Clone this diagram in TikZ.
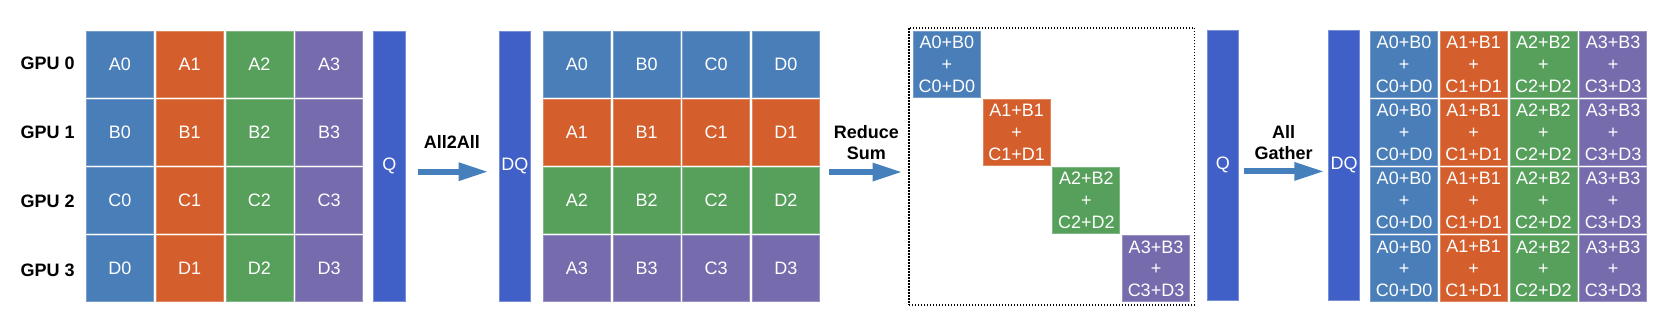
\documentclass[tikz,border=0pt]{standalone}
\usepackage{fontspec}
\setmainfont{Liberation Sans}
\usetikzlibrary{arrows.meta,calc}
\definecolor{cblue}{RGB}{74,126,184}
\definecolor{corange}{RGB}{212,95,45}
\definecolor{cgreen}{RGB}{87,160,92}
\definecolor{cpurple}{RGB}{118,108,173}
\definecolor{qblue}{RGB}{64,96,200}
\definecolor{arrowc}{RGB}{70,128,188}
\begin{document}
\begin{tikzpicture}[x=1pt,y=-1pt,
  every node/.style={font=\fontsize{18}{21.6}\selectfont},
  cell/.style={fill=#1, draw=#1!75!white, line width=0.8pt, minimum width=67pt, minimum height=66pt, inner sep=0pt, anchor=north west, text=white, align=center},
  bar/.style={fill=qblue, draw=qblue!70!white, line width=0.8pt, minimum width=31.5pt, minimum height=270pt, inner sep=0pt, anchor=north west, text=white},
  lbl/.style={font=\fontsize{18}{21.6}\selectfont\bfseries, align=center, text=black},
  bigarrow/.style={draw=arrowc, line width=6pt, -{Triangle[length=30pt,width=17pt]}}
]
\useasboundingbox (0,0) rectangle (1661,332);

% GPU labels
\foreach \r in {0,1,2,3} {
  \node[lbl, anchor=west] (gpu\r) at (17,{63+69*\r}) {GPU \r};
}

% grid 1
\foreach \r/\L in {0/A,1/B,2/C,3/D} {
  \foreach \c/\col in {0/cblue,1/corange,2/cgreen,3/cpurple} {
    \node[cell=\col] (g1-\r-\c) at ({86.1+69.7*\c},{31+68*\r}) {\L\c};
  }
}

% bars
\node[bar] (Q1) at (373.2,31) {Q};
\node[bar] (DQ1) at (498.6,31) {DQ};
\node[bar] (Q2) at (1206.6,29.5) {Q};
\node[bar] (DQ2) at (1327.9,29.5) {DQ};

% grid 2
\foreach \r/\col in {0/cblue,1/corange,2/cgreen,3/cpurple} {
  \foreach \c/\L in {0/A,1/B,2/C,3/D} {
    \node[cell=\col] (g2-\r-\c) at ({542.9+69.7*\c},{31+68*\r}) {\L\r};
  }
}

% reduce box
\node[draw=black, dash pattern=on 1.5pt off 1.5pt, line width=1.5pt, minimum width=285.7pt, minimum height=277pt, inner sep=0pt, anchor=north west] (rbox) at (908,27) {};
\foreach \i/\col in {0/cblue,1/corange,2/cgreen,3/cpurple} {
  \node[cell=\col] (d\i) at ({913+69.7*\i},{31+68*\i}) {A\i+B\i\\+\\C\i+D\i};
}

% grid 3
\foreach \r in {0,1,2,3} {
  \foreach \c/\col in {0/cblue,1/corange,2/cgreen,3/cpurple} {
    \node[cell=\col] (g3-\r-\c) at ({1370.1+69.7*\c},{31+68*\r}) {A\c+B\c\\+\\C\c+D\c};
  }
}

% labels
\node[lbl] (lab1) at (451.8,141.7) {All2All};
\node[lbl] (lab2) at (866.4,142.5) {Reduce\\Sum};
\node[lbl] (lab3) at (1283.5,142.5) {All\\Gather};

% arrows
\draw[bigarrow] ([xshift=12.2pt,yshift=-5.3pt]Q1.east) -- ([xshift=-10pt,yshift=-5.3pt]DQ1.west);
\draw[bigarrow] ($(rbox.west -| g2-1-3.east)+(9,5.8)$) -- ($(rbox.west)+(-5.5,5.8)$);
\draw[bigarrow] ([xshift=4.7pt,yshift=-6.5pt]Q2.east) -- ([xshift=-3.6pt,yshift=-6.5pt]DQ2.west);
\end{tikzpicture}
\end{document}
